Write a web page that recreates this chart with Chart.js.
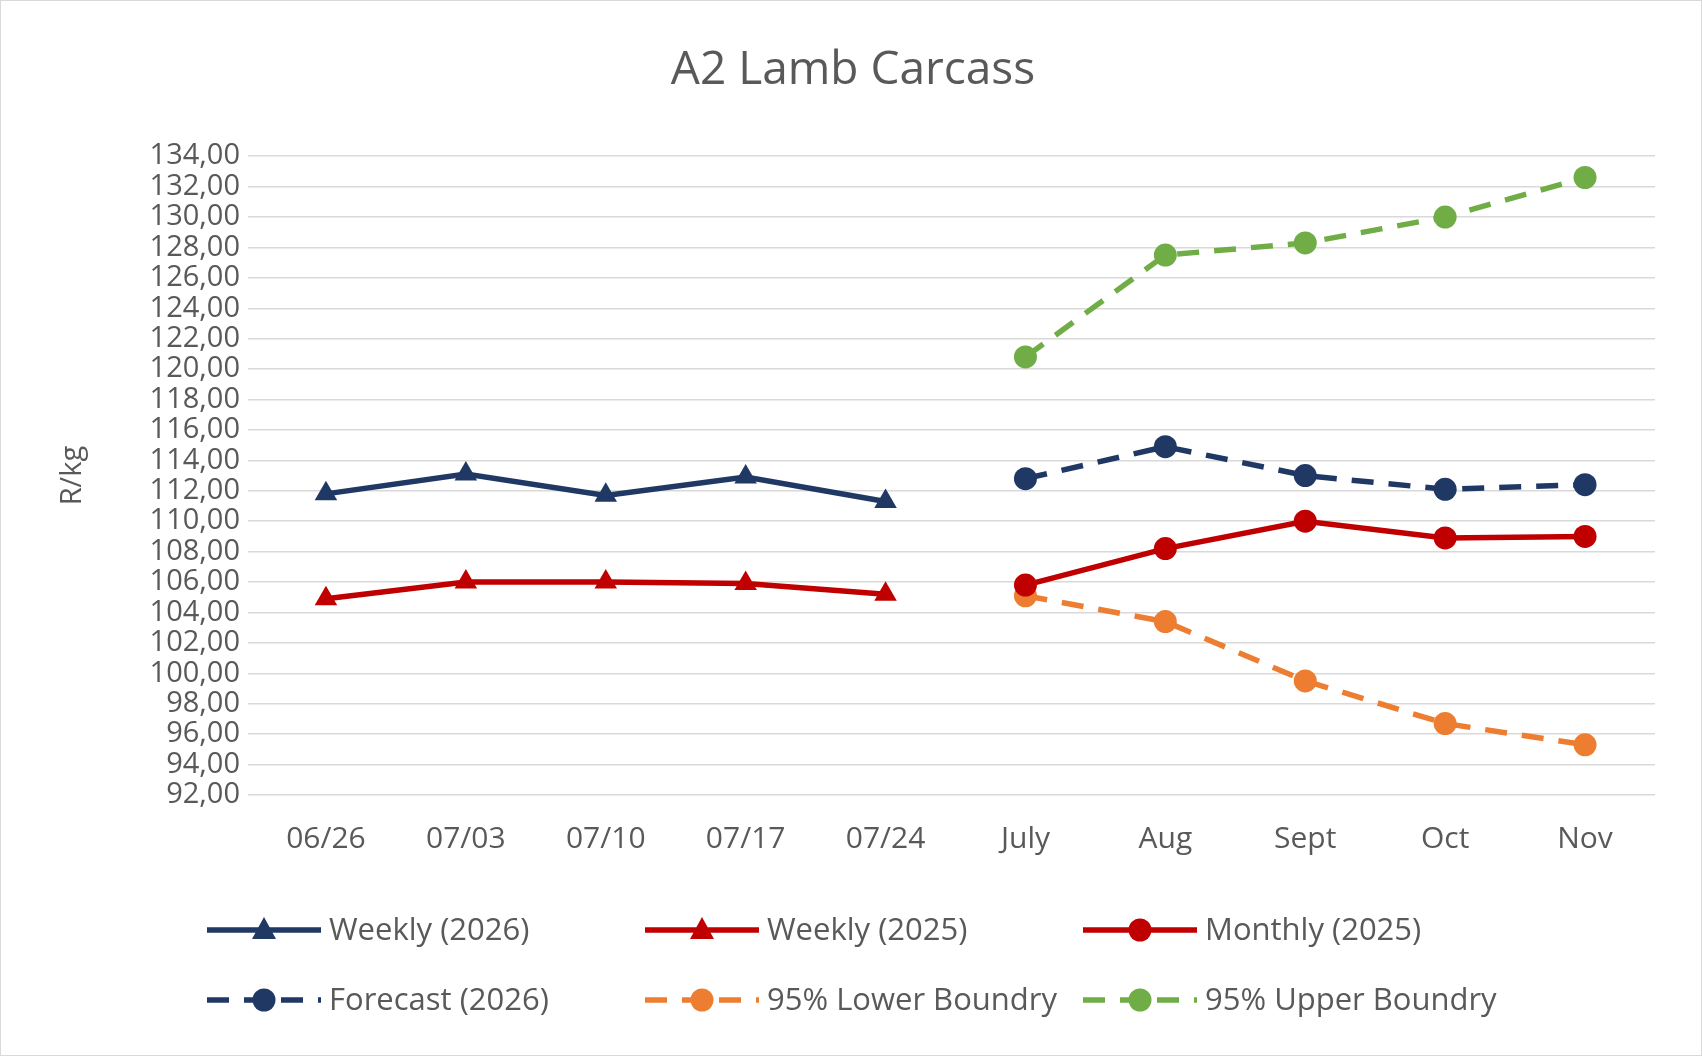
<!DOCTYPE html>
<html><head><meta charset="utf-8">
<script src="https://cdn.jsdelivr.net/npm/chart.js"></script>
<style>
html,body{margin:0;padding:0;background:#fff}
#wrap{position:absolute;left:0;top:0;width:1700px;height:1054px;border:1px solid #d9d9d9}
</style></head>
<body><div id="wrap"><canvas id="c"></canvas></div>
<script>
/* ============ DATA ============ */
const labels = ['06/26','07/03','07/10','07/17','07/24','July','Aug','Sept','Oct','Nov'];
const weekly2026 = [111.8,113.1,111.7,112.9,111.3,null,null,null,null,null];
const weekly2025 = [104.9,106.0,106.0,105.9,105.2,null,null,null,null,null];
const monthly2025 = [null,null,null,null,null,105.8,108.2,110.0,108.9,109.0];
const forecast2026 = [null,null,null,null,null,112.8,114.9,113.0,112.1,112.4];
const lower95 = [null,null,null,null,null,105.1,103.4,99.5,96.7,95.3];
const upper95 = [null,null,null,null,null,120.8,127.5,128.3,130.0,132.6];

const NAVY='#203864', RED='#c00000', ORANGE='#ed7d31', GREEN='#70ad47', GREY='#595959';
const DASH=[22,15];
const F='"Open Sans", "Noto Sans", sans-serif';

const mk=(label,data,color,pt,dash)=>({label,data,borderColor:color,backgroundColor:color,
  borderWidth:5.5,pointStyle:pt,pointRadius:pt==='triangle'?13:11.5,borderDash:dash||[],
  pointBorderWidth:0,spanGaps:false,tension:0});

const datasets=[
  mk('Weekly (2026)',weekly2026,NAVY,'triangle'),
  mk('Weekly (2025)',weekly2025,RED,'triangle'),
  mk('Monthly (2025)',monthly2025,RED,'circle'),
  mk('Forecast (2026)',forecast2026,NAVY,'circle',DASH),
  mk('95% Lower Boundry',lower95,ORANGE,'circle',DASH),
  mk('95% Upper Boundry',upper95,GREEN,'circle',DASH)
];

/* ============ LEGEND (2 rows x 3 cols) ============ */
const legendPlug={id:'legend3',afterDraw(ch){
  const c=ch.ctx; const cols=[206,644,1082], rows=[929,999];
  ch.data.datasets.forEach((d,i)=>{
    const x=cols[i%3], y=rows[Math.floor(i/3)];
    c.save();
    c.strokeStyle=d.borderColor;c.lineWidth=5.5;c.setLineDash(d.borderDash);
    c.beginPath();c.moveTo(x,y);c.lineTo(x+114,y);c.stroke();c.setLineDash([]);
    c.fillStyle=d.borderColor;c.beginPath();
    if(d.pointStyle==='triangle'){c.moveTo(x+57,y-13);c.lineTo(x+69,y+9);c.lineTo(x+45,y+9);c.closePath();}
    else c.arc(x+57,y,11.5,0,Math.PI*2);
    c.fill();
    c.fillStyle=GREY;c.font='31px '+F;c.textBaseline='middle';
    c.fillText(d.label,x+122,y+1);
    c.restore();
  });
}};

new Chart(document.getElementById('c'),{
  type:'line',
  data:{labels,datasets},
  plugins:[legendPlug],
  options:{
    responsive:true,maintainAspectRatio:false,animation:false,
    layout:{padding:{left:50,right:46,top:20,bottom:180}},
    plugins:{
      legend:{display:false},tooltip:{enabled:false},
      title:{display:true,text:'A2 Lamb Carcass',color:GREY,font:{family:F,size:46,weight:'normal'},padding:{top:22,bottom:58}}
    },
    scales:{
      x:{offset:true,grid:{display:false},border:{display:false},
        ticks:{color:GREY,font:{family:F,size:30},padding:18,autoSkip:false,maxRotation:0}},
      y:{min:92,max:134,
        afterFit:s=>{s.width=205},
        grid:{color:'#d9d9d9',lineWidth:1.5},border:{display:false},
        ticks:{stepSize:2,autoSkip:false,color:GREY,font:{family:F,size:29},padding:8,
          callback:v=>v.toFixed(2).replace('.',',')},
        title:{display:true,text:'R/kg',color:GREY,font:{family:F,size:29}}}
    }
  }
});
</script></body></html>
